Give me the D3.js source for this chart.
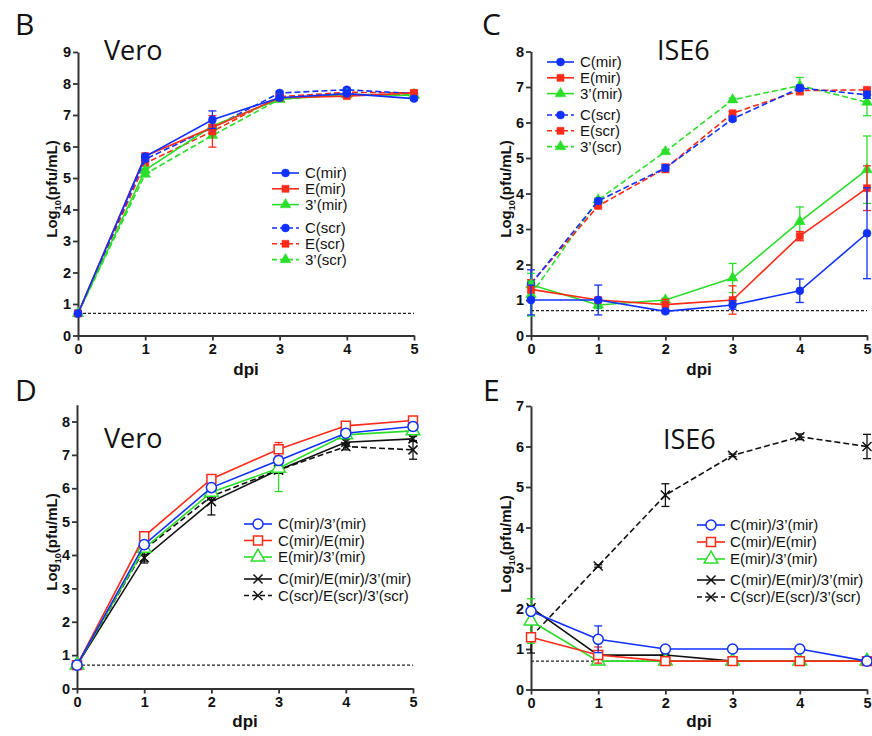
<!DOCTYPE html>
<html lang="en">
<head>
<meta charset="utf-8">
<script src="https://d3js.org/d3.v7.min.js"></script>
<style>
  body { margin: 0; background: #fff; }
  svg text { font-family: "Liberation Sans", Arial, sans-serif; }
</style>
</head>
<body>
<svg id="chart" width="872" height="736"></svg>
<script>
// ---- data ----
const days = [0, 1, 2, 3, 4, 5];
const lod = 0.7;

const namesBC = ["C(mir)", "E(mir)", "3\u2019(mir)", "C(scr)", "E(scr)", "3\u2019(scr)"];
const namesDE = ["C(mir)/3\u2019(mir)", "C(mir)/E(mir)", "E(mir)/3\u2019(mir)",
                 "C(mir)/E(mir)/3\u2019(mir)", "C(scr)/E(scr)/3\u2019(scr)"];

// B: Vero, single-site constructs
const veroCmir = [0.7, 5.68, 6.85, 7.55, 7.68, 7.52];
const veroEmir = [0.7, 5.70, 6.60, 7.55, 7.60, 7.70];
const vero3mir = [0.7, 5.25, 6.65, 7.50, 7.65, 7.62];
const veroCscr = [0.7, 5.60, 6.60, 7.70, 7.80, 7.68];
const veroEscr = [0.7, 5.47, 6.48, 7.58, 7.72, 7.70];
const vero3scr = [0.7, 5.12, 6.35, 7.50, 7.65, 7.65];
const veroCmirErr = [0, 0.05, 0.28, 0.05, 0.05, 0.05];
const veroEmirErr = [0, 0.05, 0.10, 0.05, 0.05, 0.05];
const vero3mirErr = [0, 0.05, 0.05, 0.05, 0.05, 0.05];
const veroCscrErr = [0, 0.05, 0.05, 0.05, 0.05, 0.05];
const veroEscrErr = [0, 0.05, 0.50, 0.05, 0.05, 0.05];
const vero3scrErr = [0, 0.05, 0.05, 0.05, 0.05, 0.05];

// C: ISE6, single-site constructs
const iseCmir = [1.00, 1.00, 0.68, 0.86, 1.26, 2.88];
const iseEmir = [1.30, 1.00, 0.87, 1.00, 2.80, 4.15];
const ise3mir = [1.43, 0.86, 1.00, 1.62, 3.21, 4.67];
const iseCscr = [1.45, 3.79, 4.72, 6.10, 6.97, 6.78];
const iseEscr = [1.47, 3.65, 4.71, 6.26, 6.90, 6.92];
const ise3scr = [1.15, 3.82, 5.18, 6.64, 7.04, 6.57];
const iseCmirErr = [0.42, 0.42, 0.04, 0.12, 0.33, 1.28];
const iseEmirErr = [0.10, 0.05, 0.15, 0.40, 0.13, 0.63];
const ise3mirErr = [0.10, 0.10, 0.05, 0.41, 0.41, 0.95];
const iseCscrErr = [0.40, 0.05, 0.08, 0.05, 0.08, 0.10];
const iseEscrErr = [0.10, 0.05, 0.12, 0.05, 0.12, 0.05];
const ise3scrErr = [0.60, 0.05, 0.05, 0.05, 0.23, 0.38];

// D: Vero, combined constructs
const veroC3 = [0.7, 4.31, 6.02, 6.83, 7.65, 7.85];
const veroCE = [0.7, 4.56, 6.28, 7.17, 7.87, 8.03];
const veroE3 = [0.7, 4.20, 5.88, 6.60, 7.60, 7.72];
const veroCE3 = [0.7, 3.92, 5.60, 6.55, 7.38, 7.48];
const veroScr = [0.7, 4.16, 5.76, 6.55, 7.25, 7.15];
const veroC3Err = [0, 0.10, 0.08, 0.10, 0.08, 0.12];
const veroCEErr = [0, 0.05, 0.05, 0.20, 0.05, 0.05];
const veroE3Err = [0, 0.05, 0.10, 0.70, 0.05, 0.10];
const veroCE3Err = [0, 0.10, 0.40, 0.10, 0.08, 0.08];
const veroScrErr = [0, 0.40, 0.10, 0.10, 0.10, 0.28];

// E: ISE6, combined constructs
const iseC3 = [1.93, 1.24, 1.00, 1.00, 1.00, 0.70];
const iseCE = [1.29, 0.85, 0.70, 0.70, 0.70, 0.70];
const iseE3 = [1.69, 0.70, 0.70, 0.70, 0.70, 0.70];
const iseCE3 = [2.02, 0.85, 0.85, 0.70, 0.70, 0.70];
const iseScr = [1.30, 3.05, 4.80, 5.78, 6.24, 6.00];
const iseC3Err = [0.05, 0.33, 0.03, 0, 0, 0];
const iseCEErr = [0.10, 0.20, 0, 0, 0, 0];
const iseE3Err = [0.55, 0.05, 0, 0, 0, 0];
const iseCE3Err = [0.05, 0.03, 0.03, 0, 0, 0];
const iseScrErr = [0.40, 0.03, 0.28, 0.03, 0.07, 0.30];

// ---- styling ----
const BLUE = "#1030ff", RED = "#ff2a18", GREEN = "#2ade2a", BLACK = "#111";
const svg = d3.select("#chart");

function styleBC(names) {
  const cols = [BLUE, RED, GREEN, BLUE, RED, GREEN];
  const syms = [d3.symbolCircle, d3.symbolSquare, d3.symbolTriangle,
                d3.symbolCircle, d3.symbolSquare, d3.symbolTriangle];
  return names.map((n, i) => ({ name: n, color: cols[i], sym: syms[i],
    dashed: i > 2, open: false, size: 50 }));
}
function styleDE(names) {
  const cols = [BLUE, RED, GREEN, BLACK, BLACK];
  const syms = [d3.symbolCircle, d3.symbolSquare, d3.symbolTriangle, d3.symbolTimes, d3.symbolTimes];
  return names.map((n, i) => ({ name: n, color: cols[i], sym: syms[i],
    dashed: i === 4, open: i < 3, cross: i > 2, size: i > 2 ? 55 : 80 }));
}

function attach(styles, vals, errs) {
  return styles.map((s, i) => Object.assign({}, s, { values: vals[i], err: errs[i] }));
}

const panels = [
  { letter: "B", lx: 15, ly: 35, title: "Vero", tx: 104, ty: 60,
    x0: 78, x1: 414, y0: 335.5, yMax: 9, yMaxPx: 52, yTicks: d3.range(0, 10),
    ylabX: 52, ylabY: 189, dpiY: 375,
    leg: { x1: 272, x2: 299, tx: 305, y: 173, dy: 15.8, gap: 55, fs: 15 },
    series: attach(styleBC(namesBC),
      [veroCmir, veroEmir, vero3mir, veroCscr, veroEscr, vero3scr],
      [veroCmirErr, veroEmirErr, vero3mirErr, veroCscrErr, veroEscrErr, vero3scrErr]) },
  { letter: "C", lx: 482, ly: 35, title: "ISE6", tx: 657, ty: 60,
    x0: 531, x1: 867, y0: 335.5, yMax: 8, yMaxPx: 51.5, yTicks: d3.range(0, 9),
    ylabX: 506, ylabY: 189, dpiY: 375,
    leg: { x1: 547, x2: 574, tx: 580, y: 62, dy: 15.8, gap: 53, fs: 15 },
    series: attach(styleBC(namesBC),
      [iseCmir, iseEmir, ise3mir, iseCscr, iseEscr, ise3scr],
      [iseCmirErr, iseEmirErr, ise3mirErr, iseCscrErr, iseEscrErr, ise3scrErr]) },
  { letter: "D", lx: 15, ly: 401, title: "Vero", tx: 104, ty: 448,
    x0: 77, x1: 413, y0: 688.5, yMax: 8, yMaxPx: 421.5, yTop: 8.5, yTicks: d3.range(0, 9),
    ylabX: 52, ylabY: 542, dpiY: 727,
    leg: { x1: 244, x2: 272, tx: 278, y: 524, dy: 16.5, gap: 55, fs: 15 },
    series: attach(styleDE(namesDE),
      [veroC3, veroCE, veroE3, veroCE3, veroScr],
      [veroC3Err, veroCEErr, veroE3Err, veroCE3Err, veroScrErr]) },
  { letter: "E", lx: 483, ly: 401, title: "ISE6", tx: 663, ty: 449,
    x0: 531, x1: 867, y0: 689.5, yMax: 7, yMaxPx: 406, yTicks: d3.range(0, 8),
    ylabX: 506, ylabY: 544, dpiY: 727,
    leg: { x1: 697, x2: 725, tx: 730, y: 525, dy: 17, gap: 55, fs: 15 },
    series: attach(styleDE(namesDE),
      [iseC3, iseCE, iseE3, iseCE3, iseScr],
      [iseC3Err, iseCEErr, iseE3Err, iseCE3Err, iseScrErr]) }
];

function drawMarker(sel, s, cx, cy) {
  sel.append("path")
    .attr("transform", `translate(${cx},${cy})`)
    .attr("d", d3.symbol().type(s.sym).size(s.size)())
    .attr("fill", s.cross ? "none" : (s.open ? "#fff" : s.color))
    .attr("stroke", s.color)
    .attr("stroke-width", s.open || s.cross ? 1.5 : 0.5);
}

function drawPanel(p) {
  const g = svg.append("g");
  const x = d3.scaleLinear().domain([0, 5]).range([p.x0, p.x1]);
  const y = d3.scaleLinear().domain([0, p.yMax]).range([p.y0, p.yMaxPx]);
  const top = p.yTop || p.yMax;
  const yAxisScale = d3.scaleLinear().domain([0, top]).range([p.y0, y(top)]);

  // axes
  const xa = g.append("g").attr("transform", `translate(0,${p.y0})`)
    .call(d3.axisBottom(x).tickValues(days).tickSize(5).tickSizeOuter(0).tickPadding(3)
      .tickFormat(d3.format("d")));
  const ya = g.append("g").attr("transform", `translate(${p.x0},0)`)
    .call(d3.axisLeft(yAxisScale).tickValues(p.yTicks).tickSize(5).tickSizeOuter(0).tickPadding(2)
      .tickFormat(d3.format("d")));
  [xa, ya].forEach(a => {
    a.select(".domain").attr("stroke", "#333").attr("stroke-width", 2);
    a.selectAll(".tick line").attr("stroke", "#333").attr("stroke-width", 1.8);
    a.selectAll(".tick text").attr("fill", "#111").style("font-size", "14.5px")
      .style("font-weight", "bold");
  });

  // detection limit
  g.append("line")
    .attr("x1", x(0)).attr("x2", x(5)).attr("y1", y(lod)).attr("y2", y(lod))
    .attr("stroke", "#222").attr("stroke-width", 1.2).attr("stroke-dasharray", "3,2");

  const line = d3.line().x((d, i) => x(days[i])).y(d => y(d));

  // draw in reverse so the first series sits on top
  p.series.slice().reverse().forEach(s => {
    g.append("path").datum(s.values)
      .attr("d", line).attr("fill", "none")
      .attr("stroke", s.color).attr("stroke-width", 1.6)
      .attr("stroke-dasharray", s.dashed ? "6,3" : null);

    s.values.forEach((v, i) => {
      const e = s.err[i];
      if (!e) return;
      const cx = x(days[i]), yt = y(v + e), yb = y(Math.max(0, v - e));
      g.append("line").attr("x1", cx).attr("x2", cx).attr("y1", yt).attr("y2", yb)
        .attr("stroke", s.color).attr("stroke-width", 1.3);
      [yt, yb].forEach(yy => g.append("line")
        .attr("x1", cx - 4).attr("x2", cx + 4).attr("y1", yy).attr("y2", yy)
        .attr("stroke", s.color).attr("stroke-width", 1.3));
    });
    s.values.forEach((v, i) => drawMarker(g, s, x(days[i]), y(v)));
  });

  // legend
  const L = p.leg;
  p.series.forEach((s, i) => {
    const ly = L.y + (i < 3 ? i * L.dy : L.gap + (i - 3) * L.dy);
    g.append("line").attr("x1", L.x1).attr("x2", L.x2).attr("y1", ly).attr("y2", ly)
      .attr("stroke", s.color).attr("stroke-width", 1.6)
      .attr("stroke-dasharray", s.dashed ? "5,3" : null);
    drawMarker(g, s, (L.x1 + L.x2) / 2, ly);
    g.append("text").attr("x", L.tx).attr("y", ly).attr("dy", "0.36em")
      .style("font-size", L.fs + "px").attr("fill", "#111").text(s.name);
  });

  // labels
  svg.append("text").attr("x", p.lx).attr("y", p.ly)
    .style("font-family", "'Open Sans', sans-serif").style("font-size", "30px")
    .attr("fill", "#111").text(p.letter);
  svg.append("text").attr("x", p.tx).attr("y", p.ty)
    .style("font-family", "'Open Sans', sans-serif").style("font-size", "27px")
    .attr("fill", "#111").text(p.title);
  svg.append("text").attr("x", (p.x0 + p.x1) / 2).attr("y", p.dpiY)
    .attr("text-anchor", "middle").style("font-size", "17px").style("font-weight", "bold")
    .attr("fill", "#111").text("dpi");

  const yl = svg.append("text")
    .attr("transform", `translate(${p.ylabX},${p.ylabY}) rotate(-90)`)
    .attr("text-anchor", "middle").attr("dy", "0.36em")
    .style("font-size", "15px").style("font-weight", "bold").attr("fill", "#111");
  yl.append("tspan").text("Log");
  yl.append("tspan").attr("dy", "4").style("font-size", "9px").text("10");
  yl.append("tspan").attr("dy", "-4").text("(pfu/mL)");
}

panels.forEach(drawPanel);
</script>
</body>
</html>
